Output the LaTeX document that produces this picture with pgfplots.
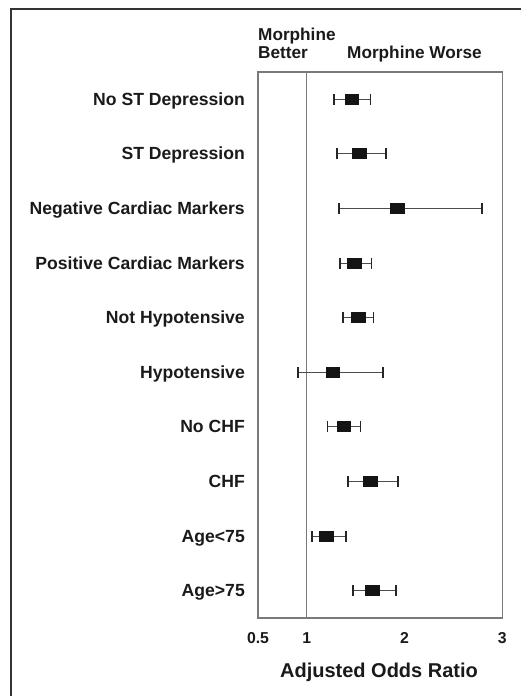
\documentclass[border=0pt]{standalone}
\usepackage{fontspec}
\setmainfont{Liberation Sans}
\usepackage{pgfplots}
\usepackage{pgfplotstable}
\pgfplotsset{compat=1.18}
\pgfplotstableread{
y m em ep
1 1.46 0.18 0.19
2 1.54 0.23 0.27
3 1.93 0.60 0.86
4 1.49 0.15 0.17
5 1.53 0.16 0.15
6 1.27 0.36 0.51
7 1.38 0.17 0.17
8 1.65 0.23 0.28
9 1.20 0.15 0.20
10 1.67 0.20 0.24
}\datatable
\definecolor{txt}{HTML}{1A1A1A}
\definecolor{frm}{HTML}{7A7A7A}
\begin{document}
\begin{tikzpicture}
\useasboundingbox (0,0) rectangle (521bp,696bp);
\draw[line width=2bp, color=black!80] (10.5bp,-30bp) -- (10.5bp,687bp) -- (560bp,687bp);
\begin{axis}[
  at={(258bp,78bp)}, anchor=south west,
  scale only axis, width=244.3bp, height=546bp,
  xmin=0.5, xmax=3, ymin=0.5, ymax=10.5,
  y dir=reverse,
  axis line style={frm, line width=1.2bp},
  major tick length=0pt,
  xtick={0.5,1,2,3},
  xticklabels={0.5,1,2,3},
  ytick={1,2,3,4,5,6,7,8,9,10},
  yticklabels={No ST Depression, ST Depression, Negative Cardiac Markers, Positive Cardiac Markers, Not Hypotensive, Hypotensive, No CHF\hspace{0.28em}, CHF, Age<75, Age>75},
  /pgf/number format/assume math mode=true,
  xticklabel style={font=\fontsize{15.8bp}{18bp}\selectfont\bfseries, text=txt, anchor=base, inner sep=0pt, yshift=-25bp},
  yticklabel style={font=\fontsize{17.6bp}{21bp}\selectfont\bfseries, text=txt, anchor=base east, inner sep=0pt, xshift=-13bp, yshift=-6bp},
  clip=false,
]
\addplot[frm, line width=1bp] coordinates {(1,0.5) (1,10.5)};
\addplot[
  color=black!85, line width=0.9bp, only marks,
  mark=square*, mark size=5bp,
  mark options={xscale=1.35, fill=black!92, draw=black!92, line width=0pt},
  error bars/.cd, x dir=both, x explicit,
  error mark=|,
  error bar style={color=black!70, line width=0.9bp},
  error mark options={color=black!85, line width=1.6bp, mark size=5.5bp},
] table[x=m, y=y, x error minus=em, x error plus=ep] {\datatable};
\end{axis}
\node[anchor=base west, inner sep=0pt, text=txt, font=\fontsize{17.2bp}{20bp}\selectfont\bfseries] at (258bp,655bp) {Morphine};
\node[anchor=base west, inner sep=0pt, text=txt, font=\fontsize{17.2bp}{20bp}\selectfont\bfseries] at (258bp,637bp) {Better};
\node[anchor=base west, inner sep=0pt, text=txt, font=\fontsize{17.2bp}{20bp}\selectfont\bfseries] at (347bp,637bp) {Morphine Worse};
\node[anchor=base, inner sep=0pt, text=txt, font=\fontsize{20bp}{24bp}\selectfont\bfseries] at (379bp,19bp) {Adjusted Odds Ratio};
\end{tikzpicture}
\end{document}
